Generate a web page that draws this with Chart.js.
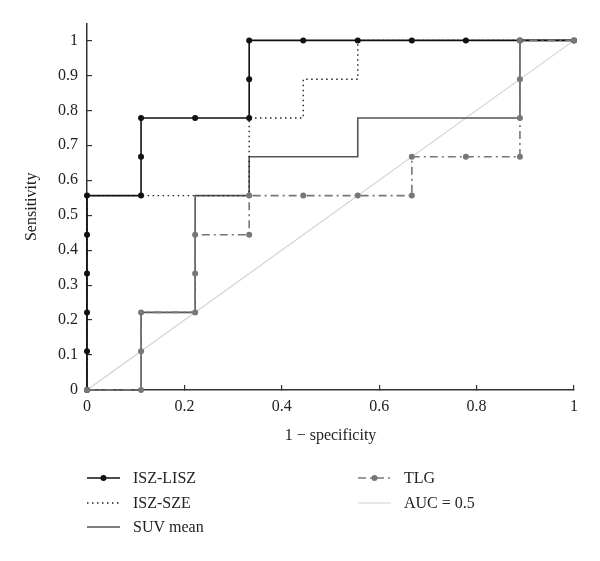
<!DOCTYPE html>
<html>
<head>
<meta charset="utf-8">
<title>ROC curves</title>
<script src="https://cdn.jsdelivr.net/npm/chart.js@4.4.1/dist/chart.umd.min.js"></script>
<style>
  body { margin: 0; background: #fff; }
  #rocChart { display: block; }
</style>
</head>
<body>
<canvas id="rocChart" width="600" height="561"></canvas>
<script>
// ---- data (1 - specificity, sensitivity), steps of 1/9 ----
var lisX = [0, 0, 0, 0, 0, 0, 0.111, 0.111, 0.111, 0.222, 0.333, 0.333, 0.333, 0.444, 0.556, 0.667, 0.778, 0.889, 1];
var lisY = [0, 0.111, 0.222, 0.333, 0.444, 0.556, 0.556, 0.667, 0.778, 0.778, 0.778, 0.889, 1, 1, 1, 1, 1, 1, 1];

var szeX = [0, 0, 0.333, 0.333, 0.444, 0.444, 0.556, 0.556, 1];
var szeY = [0, 0.556, 0.556, 0.778, 0.778, 0.889, 0.889, 1, 1];

var suvX = [0, 0.111, 0.111, 0.222, 0.222, 0.333, 0.333, 0.556, 0.556, 0.889, 0.889, 1];
var suvY = [0, 0, 0.222, 0.222, 0.556, 0.556, 0.667, 0.667, 0.778, 0.778, 1, 1];

var tlgX = [0, 0.111, 0.111, 0.111, 0.222, 0.222, 0.222, 0.333, 0.333, 0.444, 0.556, 0.667, 0.667, 0.778, 0.889, 0.889, 0.889, 0.889, 1];
var tlgY = [0, 0, 0.111, 0.222, 0.222, 0.333, 0.444, 0.444, 0.556, 0.556, 0.556, 0.556, 0.667, 0.667, 0.667, 0.778, 0.889, 1, 1];

var aucX = [0, 1];
var aucY = [0, 1];

var xTicks = [0, 0.2, 0.4, 0.6, 0.8, 1];
var yTicks = [0, 0.1, 0.2, 0.3, 0.4, 0.5, 0.6, 0.7, 0.8, 0.9, 1];

var seriesNames = ['ISZ-LISZ', 'ISZ-SZE', 'SUV mean', 'TLG', 'AUC = 0.5'];
// -----------------------------------------------------------

var SERIF = '"Liberation Serif", "DejaVu Serif", serif';

function toPoints(xs, ys) {
    return xs.map(function (x, i) { return { x: x, y: ys[i] }; });
}

// legend drawn under the axes, two columns like the paper figure
var bottomLegend = {
    id: 'bottomLegend',
    afterDraw: function (chart) {
        var ctx = chart.ctx;
        var slots = [
            { x: 87, y: 478 }, { x: 87, y: 503 }, { x: 87, y: 527 },
            { x: 358, y: 478 }, { x: 358, y: 503 }
        ];
        chart.data.datasets.forEach(function (ds, i) {
            var s = slots[i];
            ctx.save();
            ctx.strokeStyle = ds.borderColor;
            ctx.lineWidth = ds.borderWidth;
            ctx.setLineDash(ds.borderDash || []);
            ctx.beginPath();
            ctx.moveTo(s.x, s.y);
            ctx.lineTo(s.x + 33, s.y);
            ctx.stroke();
            if (ds.pointRadius > 0) {
                ctx.setLineDash([]);
                ctx.fillStyle = ds.pointBackgroundColor;
                ctx.beginPath();
                ctx.arc(s.x + 16.5, s.y, ds.pointRadius, 0, Math.PI * 2);
                ctx.fill();
            }
            ctx.fillStyle = '#222';
            ctx.font = '16px ' + SERIF;
            ctx.textBaseline = 'middle';
            ctx.fillText(ds.label, s.x + 46, s.y + 1);
            ctx.restore();
        });
    }
};

var ctx = document.getElementById('rocChart').getContext('2d');
var rocChart = new Chart(ctx, {
    type: 'scatter',
    data: {
        datasets: [
            {
                label: seriesNames[0],
                data: toPoints(lisX, lisY),
                showLine: true,
                borderColor: '#111',
                borderWidth: 1.6,
                pointRadius: 3,
                pointBackgroundColor: '#111',
                pointBorderWidth: 0,
                clip: false,
                order: 2
            },
            {
                label: seriesNames[1],
                data: toPoints(szeX, szeY),
                showLine: true,
                borderColor: '#222',
                borderWidth: 1.4,
                borderDash: [1.5, 3.5],
                pointRadius: 0,
                clip: false,
                order: 3
            },
            {
                label: seriesNames[2],
                data: toPoints(suvX, suvY),
                showLine: true,
                borderColor: '#555',
                borderWidth: 1.6,
                pointRadius: 0,
                clip: false,
                order: 4
            },
            {
                label: seriesNames[3],
                data: toPoints(tlgX, tlgY),
                showLine: true,
                borderColor: '#777',
                borderWidth: 1.6,
                borderDash: [8, 4, 2, 4],
                pointRadius: 3,
                pointBackgroundColor: '#777',
                pointBorderWidth: 0,
                clip: false,
                order: 1
            },
            {
                label: seriesNames[4],
                data: toPoints(aucX, aucY),
                showLine: true,
                borderColor: '#d2d2d2',
                borderWidth: 1.2,
                pointRadius: 0,
                clip: false,
                order: 5
            }
        ]
    },
    options: {
        responsive: false,
        animation: false,
        layout: { padding: { top: 20, right: 26, bottom: 111, left: 0 } },
        plugins: {
            legend: { display: false },
            tooltip: { enabled: false }
        },
        scales: {
            x: {
                type: 'linear',
                min: 0,
                max: 1,
                afterFit: function (scale) { scale.height = 60; },
                afterBuildTicks: function (scale) {
                    scale.ticks = xTicks.map(function (v) { return { value: v }; });
                },
                border: { display: true, color: '#333', width: 1.5 },
                grid: { drawOnChartArea: false, drawTicks: true, tickLength: -5, color: '#333', lineWidth: 1.2 },
                ticks: {
                    padding: 12,
                    color: '#222',
                    font: { family: SERIF, size: 16 },
                    callback: function (v) { return String(v); }
                },
                title: {
                    display: true,
                    text: '1 \u2212 specificity',
                    color: '#222',
                    font: { family: SERIF, size: 16 },
                    padding: { top: 0, bottom: 5 }
                }
            },
            y: {
                type: 'linear',
                min: 0,
                max: 1.048,
                afterFit: function (scale) { scale.width = 87; },
                afterBuildTicks: function (scale) {
                    scale.ticks = yTicks.map(function (v) { return { value: v }; });
                },
                border: { display: true, color: '#333', width: 1.5 },
                grid: { drawOnChartArea: false, drawTicks: true, tickLength: -5, color: '#333', lineWidth: 1.2 },
                ticks: {
                    padding: 14,
                    color: '#222',
                    font: { family: SERIF, size: 16 },
                    callback: function (v) { return String(v); }
                },
                title: {
                    display: true,
                    text: 'Sensitivity',
                    color: '#222',
                    font: { family: SERIF, size: 16 },
                    padding: { top: 22, bottom: 0 }
                }
            }
        }
    },
    plugins: [bottomLegend]
});
</script>
</body>
</html>
